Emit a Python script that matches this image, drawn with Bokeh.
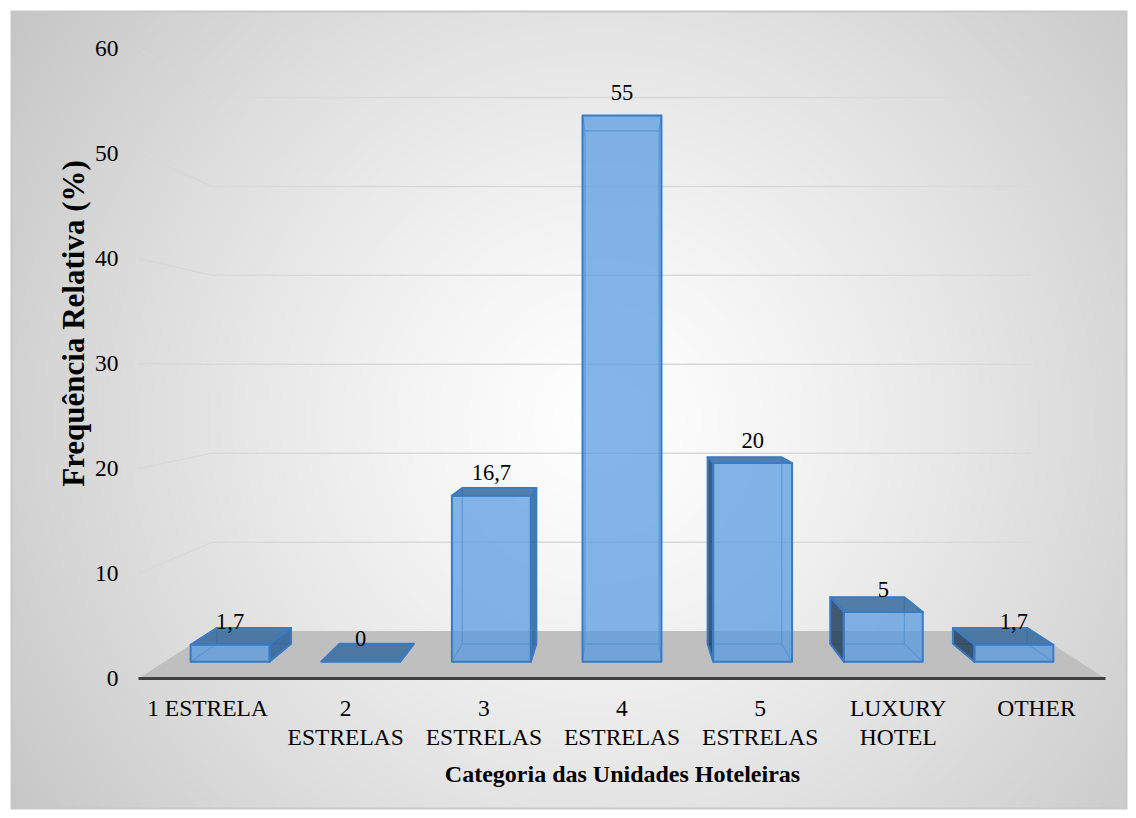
import numpy as np
from bokeh.plotting import figure
from bokeh.models import Range1d
from bokeh.core.properties import value
from bokeh.embed import file_html
from bokeh.resources import INLINE

# ---------------- data ----------------
categories = ["1 ESTRELA", "2 ESTRELAS", "3 ESTRELAS", "4 ESTRELAS",
              "5 ESTRELAS", "LUXURY HOTEL", "OTHER"]
tick_labels = ["1 ESTRELA", "2\nESTRELAS", "3\nESTRELAS", "4\nESTRELAS",
               "5\nESTRELAS", "LUXURY\nHOTEL", "OTHER"]
values = [1.7, 0, 16.7, 55, 20, 5, 1.7]
value_labels = ["1,7", "0", "16,7", "55", "20", "5", "1,7"]
y_ticks = [0, 10, 20, 30, 40, 50, 60]
y_tick_labels = ["0", "10", "20", "30", "40", "50", "60"]
x_title = "Categoria das Unidades Hoteleiras"
y_title = "Frequência Relativa (%)"

# ---------------- geometry (3D perspective) ----------------
W, H = 1136, 818
X0_PX = 138.0      # screen x of category 0 on the front plane
CAT_PX = 138.14    # px per category on the front plane
ZERO_PX = 678.0    # screen y of value 0 on the front plane
VAL_PX = 10.5      # px per value unit on the front plane
N = len(categories)
VPX = N / 2.0                       # vanishing point (data units)
VPV = (ZERO_PX - 368.0) / VAL_PX
K_BACK = 0.847     # back wall depth scale
K_BF = 0.9457      # bar front depth scale
K_BB = 0.888       # bar back depth scale
HALF_W = 0.302


def proj(x, v, k):
    return VPX + (x - VPX) * k, VPV + (v - VPV) * k


def poly(pts):
    pp = [proj(*pt) for pt in pts]
    return [q[0] for q in pp], [q[1] for q in pp]


def dx(px):
    return px / CAT_PX


def dy(px):
    return px / VAL_PX


xr = Range1d(-X0_PX / CAT_PX, (W - X0_PX) / CAT_PX)
yr = Range1d((ZERO_PX - H) / VAL_PX, ZERO_PX / VAL_PX)

p = figure(width=W, height=H, x_range=xr, y_range=yr, output_backend="svg",
           toolbar_location=None, min_border=0, title=None,
           x_axis_location=None, y_axis_location=None)
p.grid.visible = False
p.outline_line_color = None
p.background_fill_color = "white"
p.border_fill_color = "white"

# ---------------- background (radial gradient chart area) ----------------
ys_, xs_ = np.mgrid[0:H, 0:W].astype(float)
cx, cy = 600.0, 420.0
dmax = np.hypot(max(cx, W - cx), max(cy, H - cy))
t = np.clip(np.hypot(xs_ - cx, ys_ - cy) / dmax, 0, 1)
g = 255 - (255 - 196) * t ** 1.25
inside = (xs_ >= 10) & (xs_ <= 1126) & (ys_ >= 10) & (ys_ <= 808)
g = np.where(inside, g, 255)
edge = inside & ((xs_ <= 11) | (xs_ >= 1125) | (ys_ <= 11) | (ys_ >= 807))
g = np.where(edge, 200, g).astype(np.uint8)
img = np.empty((H, W), dtype=np.uint32)
view = img.view(dtype=np.uint8).reshape(H, W, 4)
view[..., 0] = g
view[..., 1] = g
view[..., 2] = g
view[..., 3] = 255
img = np.flipud(img)
p.image_rgba(image=[img], x=xr.start, y=yr.start, dw=xr.end - xr.start,
             dh=yr.end - yr.start)

# ---------------- floor ----------------
fx, fy = poly([(0, 0, 1.0), (N, 0, 1.0), (N, 0, K_BACK), (0, 0, K_BACK)])
p.patch(fx, fy, fill_color="#bfbfbf", line_color=None)

# ---------------- gridlines (back wall + left wall diagonals) ----------------
gx, gy, dgx, dgy = [], [], [], []
for v in y_ticks[1:]:
    a, b = poly([(0, v, K_BACK), (N, v, K_BACK)])
    gx.append(a); gy.append(b)
    a, b = poly([(0, v, 1.0), (0, v, K_BACK)])
    dgx.append(a); dgy.append(b)
p.multi_line(gx, gy, line_color="#d9d9d9", line_width=1.5)
p.multi_line(dgx, dgy, line_color="#d6d6d6", line_width=1.3, line_alpha=0.8)

# front edge of floor
ex, ey = poly([(0, 0, 1.0), (N, 0, 1.0)])
p.line(ex, ey, line_color="#404040", line_width=3)

# ---------------- bars ----------------
hid_x, hid_y = [], []
vis_x, vis_y, vis_c = [], [], []
fr_x, fr_y = [], []
C_TOP = "#356b9e"
C_LEFT = "#233f5c"
C_RIGHT = "#2a609a"
for i, v in enumerate(values):
    x0 = i + 0.5 - HALF_W
    x1 = i + 0.5 + HALF_W
    front = [(x0, 0, K_BF), (x1, 0, K_BF), (x1, v, K_BF), (x0, v, K_BF)]
    back = [(x0, 0, K_BB), (x1, 0, K_BB), (x1, v, K_BB), (x0, v, K_BB)]
    bottom = [(x0, 0, K_BF), (x1, 0, K_BF), (x1, 0, K_BB), (x0, 0, K_BB)]
    top = [(x0, v, K_BF), (x1, v, K_BF), (x1, v, K_BB), (x0, v, K_BB)]
    left = [(x0, 0, K_BF), (x0, v, K_BF), (x0, v, K_BB), (x0, 0, K_BB)]
    right = [(x1, 0, K_BF), (x1, v, K_BF), (x1, v, K_BB), (x1, 0, K_BB)]
    hidden = [back, bottom]
    faces = []
    if v < VPV:
        faces.append((top, C_TOP))
    else:
        hidden.append(top)
    if x0 > VPX:
        faces.append((left, C_LEFT))
    else:
        hidden.append(left)
    if x1 < VPX:
        faces.append((right, C_RIGHT))
    else:
        hidden.append(right)
    for f in hidden:
        a, b = poly(f)
        hid_x.append(a); hid_y.append(b)
    for f, c in faces:
        a, b = poly(f)
        vis_x.append(a); vis_y.append(b); vis_c.append(c)
    if v > 0:
        a, b = poly(front)
        fr_x.append(a); fr_y.append(b)

p.patches(hid_x, hid_y, fill_color=None, line_color="#3a7bc4",
          line_alpha=0.45, line_width=1.2)
p.patches(vis_x, vis_y, fill_color=vis_c, fill_alpha=0.85,
          line_color="#3a7bc4", line_width=2, line_join="round")
p.patches(fr_x, fr_y, fill_color="#5599e0", fill_alpha=0.72,
          line_color="#3a7bc4", line_width=2, line_join="round")

# ---------------- texts ----------------
FONT = value("Liberation Serif")
lx = [proj(i + 0.5, v, K_BF)[0] for i, v in enumerate(values)]
ly = [proj(i + 0.5, v, K_BF)[1] + dy(23) for i, v in enumerate(values)]
p.text(x=lx, y=ly, text=value_labels, text_align="center",
       text_baseline="middle", text_font=FONT, text_font_size="22.5px",
       text_color="black")

p.text(x=[dx(-20)] * len(y_ticks), y=y_ticks, text=y_tick_labels,
       text_align="right", text_baseline="middle", text_font=FONT,
       text_font_size="23.5px", text_color="black")

p.text(x=[i + 0.5 for i in range(N)], y=[dy(-16)] * N, text=tick_labels,
       text_align="center", text_baseline="top", text_font=FONT,
       text_font_size="23.5px", text_color="black", text_line_height=1.15)

p.text(x=[dx(622 - X0_PX)], y=[dy(ZERO_PX - 773)], text=[x_title],
       text_align="center", text_baseline="middle", text_font=FONT,
       text_font_size="24px", text_font_style="bold", text_color="black")
p.text(x=[dx(73 - X0_PX)], y=[dy(ZERO_PX - 323)], text=[y_title],
       angle=np.pi / 2, text_align="center", text_baseline="middle",
       text_font=FONT, text_font_size="31px", text_font_style="bold",
       text_color="black")

open("out.html", "w").write(file_html(p, INLINE))
